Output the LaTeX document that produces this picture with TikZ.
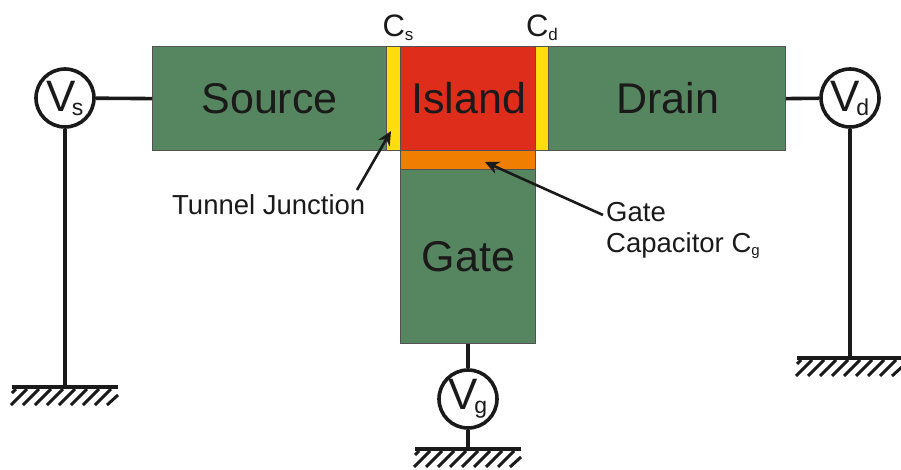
\documentclass[tikz,border=0pt]{standalone}
\usepackage{fontspec}
\setmainfont{Liberation Sans}
\usetikzlibrary{arrows.meta}

\definecolor{leadgreen}{HTML}{56865F}
\definecolor{islandred}{HTML}{DE2D1A}
\definecolor{barrieryellow}{HTML}{FFDD0F}
\definecolor{gateorange}{HTML}{F07E00}
\definecolor{inkblack}{HTML}{1A1A1A}

\newcommand{\bigsub}[2]{#1\kern-4pt\raisebox{-4pt}{\fontsize{23}{23}\selectfont #2}}
\newcommand{\capsub}[2]{#1\raisebox{-3.5pt}{\fontsize{17}{17}\selectfont #2}}
\newcommand{\tinysub}[2]{#1\raisebox{-3.5pt}{\fontsize{15}{15}\selectfont #2}}

\tikzset{
  block/.style={draw=inkblack!75,line width=1.2pt,inner sep=0pt,anchor=north west,text=inkblack,font=\fontsize{43}{43}\selectfont},
  source meter/.style={circle,draw=inkblack,line width=3.6pt,fill=white,minimum size=58pt,inner sep=0pt,text=inkblack,font=\fontsize{44}{44}\selectfont},
  wire/.style={draw=inkblack,line width=3.6pt},
  pointer/.style={draw=inkblack,line width=2.6pt,-{Stealth[length=14pt,width=13pt]}},
  caption/.style={text=inkblack,inner sep=0pt,font=\fontsize{27.5}{31}\selectfont},
  plate/.style={text=inkblack,inner sep=0pt,font=\fontsize{31}{31}\selectfont},
  ground/.pic={
    \draw[wire] (-53,0) -- (53,0);
    \draw[line width=3pt,inkblack] (-53,6) -- (-49,2);
    \foreach \i in {0,...,7}
      \draw[line width=3pt,inkblack] (-54+12*\i,18) -- ++(16,-16);
    \draw[line width=3pt,inkblack] (42,18) -- ++(11,-10);
  }
}

\begin{document}
\begin{tikzpicture}[x=1pt,y=-1pt]
  \useasboundingbox (0,0) rectangle (901,470);

  % leads
  \node[block,fill=leadgreen,minimum width=234pt,minimum height=104pt] (source) at (152,46) {Source};
  \node[block,fill=leadgreen,minimum width=237pt,minimum height=104pt] (drain) at (548,46) {\hspace*{1pt}Drain};
  \node[block,fill=leadgreen,minimum width=135pt,minimum height=174pt] (gate) at (400,169) {\hspace*{1pt}Gate};

  % island and barriers
  \node[block,fill=islandred,minimum width=135pt,minimum height=104pt] (island) at (400,46) {\hspace*{1pt}Island};
  \node[block,fill=barrieryellow,minimum width=14pt,minimum height=104pt] (junctions) at (386,46) {};
  \node[block,fill=barrieryellow,minimum width=13pt,minimum height=104pt] (junctiond) at (535,46) {};
  \node[block,fill=gateorange,minimum width=135pt,minimum height=19pt] (gatecap) at (400,150) {};

  % voltage sources
  \node[source meter] (vs) at (65,98) {\bigsub{V}{s}};
  \node[source meter] (vd) at (850,98) {\bigsub{V}{d}};
  \node[source meter] (vg) at (468,399) {\bigsub{V}{g}};

  \coordinate (gnds) at (65,387);
  \coordinate (gndd) at (850,358);
  \coordinate (gndg) at (468,449);

  \draw[wire] (vs) -- (source.west);
  \draw[wire] (vd) -- (drain.east);
  \draw[wire] (vg) -- (gate.south -| vg);
  \draw[wire] (vs) -- (gnds);
  \draw[wire] (vd) -- (gndd);
  \draw[wire] (vg) -- (gndg);

  \pic at (gnds) {ground};
  \pic at (gndd) {ground};
  \pic at (gndg) {ground};

  % labels
  \node[plate] (cs) at (398,28) {\capsub{C}{s}};
  \node[plate] (cd) at (542,28) {\capsub{C}{d}};
  \node[caption,anchor=west] (tunnel) at (172,205) {Tunnel Junction};
  \node[caption,anchor=north west,align=left] (gatelabel) at (606,202) {Gate\\\tinysub{Capacitor C}{g}};

  \coordinate (tunneltail) at (357,190);
  \coordinate (tunneltip) at (391,131);
  \coordinate (captail) at (603,215);
  \coordinate (captip) at (485,162);
  \draw[pointer] (tunneltail) -- (tunneltip);
  \draw[pointer] (captail) -- (captip);
\end{tikzpicture}
\end{document}
